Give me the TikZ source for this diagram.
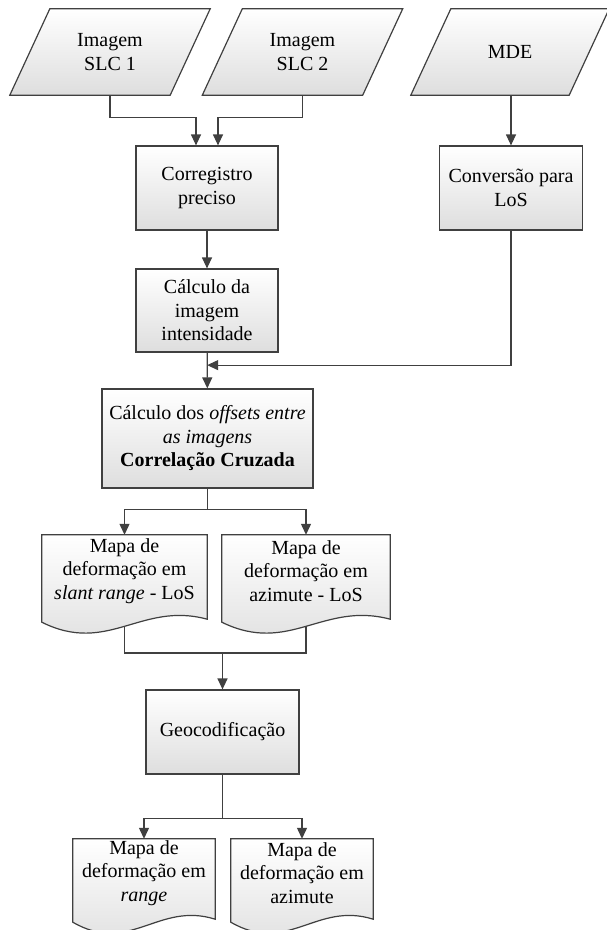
\documentclass[tikz,border=0pt]{standalone}
\usepackage{fontspec}
\setmainfont{Liberation Serif}
\usetikzlibrary{arrows.meta,positioning,calc,backgrounds}
\definecolor{edgegray}{HTML}{404040}

\begin{document}
\begin{tikzpicture}[x=1pt, y=-1pt,
  every node/.style={font=\fontsize{20}{23.5}\selectfont, align=center},
  inbox/.style={minimum width=160, minimum height=86, inner sep=0pt},
  proc/.style={draw=edgegray, line width=1.2pt, top color=white, bottom color=black!13, minimum width=142, minimum height=84, inner sep=2pt},
  doc/.style={minimum width=165, minimum height=72, inner sep=0pt},
  shapefill/.style={draw=edgegray, line width=1.2pt, top color=white, bottom color=black!13},
  flow/.style={draw=edgegray, line width=1.2pt, -{Triangle[length=11pt,width=10pt]}},
  link/.style={draw=edgegray, line width=1.2pt}
]
\useasboundingbox (0,0) rectangle (606,930);

% entradas
\node[inbox] (slc1) at (110,52) {Imagem\\SLC 1};
\node[inbox] (slc2) at (302.5,52) {Imagem\\SLC 2};
\node[inbox, minimum width=158] (mde) at (510,52) {MDE};

% processamento
\node[proc] (coreg) at (207,188) {Corregistro\\preciso};
\node[proc, minimum width=143] (conv) at (511,188) {Conversão para\\LoS};
\node[proc, minimum height=83] (inten) at (207,310.5) {Cálculo da\\imagem\\intensidade};
\node[proc, minimum width=211, minimum height=99] (corr) at (207.5,438.5) {Cálculo dos \textit{offsets entre}\\\textit{as imagens}\\\textbf{Correlação Cruzada}};

% mapas em LoS
\node[doc] (dslant) at (124.5,571) {Mapa de\\deformação em\\\textit{slant range} - LoS};
\node[doc, minimum width=168] (dazi) at (306,571) {Mapa de\\deformação em\\azimute - LoS};

\node[proc, minimum width=153] (geo) at (222.5,732) {Geocodificação};

% mapas geocodificados
\node[doc, minimum width=142, minimum height=68] (drange) at (144,873) {Mapa de\\deformação em\\\textit{range}};
\node[doc, minimum width=142, minimum height=68] (dazim) at (302,873) {Mapa de\\deformação em\\azimute};

\begin{scope}[on background layer]
\foreach \p in {slc1,slc2,mde}
  \path[shapefill] ([xshift=-20pt]\p.south west) -- ([xshift=-20pt]\p.south east)
    -- ([xshift=20pt]\p.north east) -- ([xshift=20pt]\p.north west) -- cycle;
\foreach \d in {dslant,dazi,drange,dazim}
  \path[shapefill] (\d.north west) -- (\d.north east) -- ($(\d.south east)+(0,12)$)
    .. controls ($(\d.south west)!0.6!(\d.south east)+(0,-6)$) and ($(\d.south west)!0.4!(\d.south east)+(0,48)$) .. ($(\d.south west)+(0,15)$) -- cycle;
\end{scope}

\coordinate (jmap) at (222.5,653);

\draw[flow] (slc1.south) -- ++(0,22) -| ([xshift=-11pt]coreg.north);
\draw[flow] (slc2.south) -- ++(0,22) -| ([xshift=11pt]coreg.north);
\draw[flow] (conv.north |- mde.south) -- (conv.north);
\draw[flow] (coreg) -- (inten);
\draw[flow] (inten) -- (corr);
\draw[flow] (conv.south) |- ($(inten.south)!0.35!(corr.north)$);
\draw[flow] (corr.south) -- ++(0,21) -| (dslant.north);
\draw[flow] (corr.south) -- ++(0,21) -| (dazi.north);
\draw[link] (dslant.south) ++(0,19) |- (jmap);
\draw[link] (dazi.south) ++(0,19) |- (jmap);
\draw[flow] (jmap) -- (geo);
\draw[flow] (geo.south) -- ++(0,44) -| (drange.north);
\draw[flow] (geo.south) -- ++(0,44) -| (dazim.north);
\end{tikzpicture}
\end{document}
